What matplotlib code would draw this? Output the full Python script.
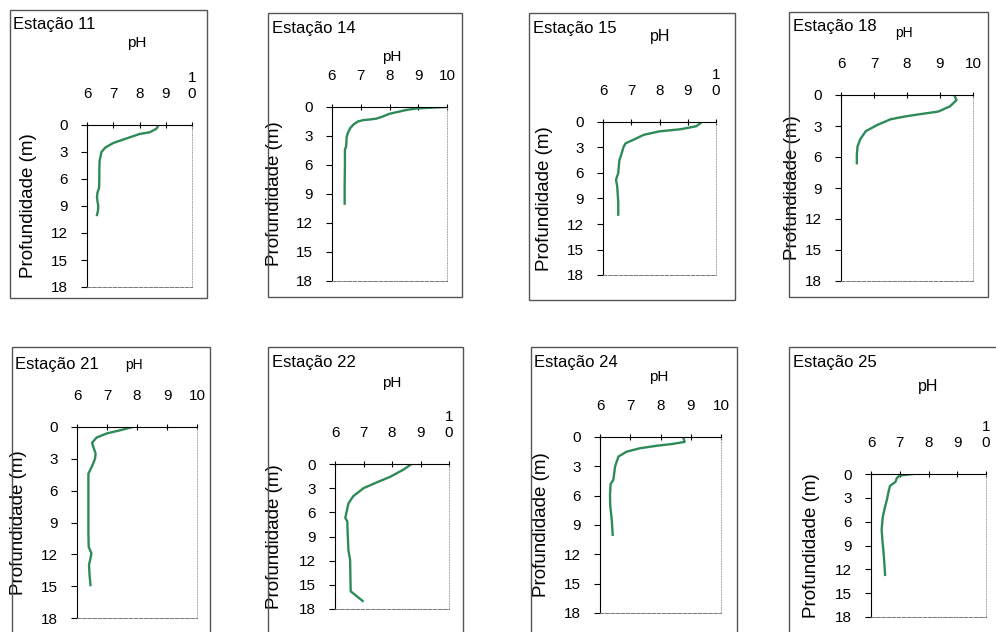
import matplotlib.pyplot as plt
from matplotlib.patches import Rectangle

plt.rcParams['font.family'] = ['Liberation Sans', 'DejaVu Sans']

# estações e perfis de pH
stations = ['Estação 11', 'Estação 14', 'Estação 15', 'Estação 18',
            'Estação 21', 'Estação 22', 'Estação 24', 'Estação 25']

depth_11 = [0.1, 0.4, 0.8, 1.0, 1.5, 2.0, 2.5, 3.0, 4.0, 5.0, 6.0, 7.0, 7.5, 8.0, 8.5, 9.0, 9.5, 10.0]
ph_11 = [8.7, 8.65, 8.4, 8.0, 7.5, 7.0, 6.7, 6.55, 6.48, 6.47, 6.47, 6.46, 6.4, 6.38, 6.4, 6.43, 6.42, 6.38]

depth_14 = [0.0, 0.15, 0.3, 0.5, 0.7, 1.0, 1.2, 1.3, 1.35, 1.5, 1.8, 2.2, 2.7, 3.1, 3.6, 4.1, 4.4, 6.0, 8.0, 10.0]
ph_14 = [9.95, 8.95, 8.6, 8.3, 8.0, 7.75, 7.55, 7.3, 7.1, 6.9, 6.75, 6.63, 6.55, 6.51, 6.5, 6.49, 6.45, 6.45, 6.44, 6.44]

depth_15 = [0.15, 0.5, 0.85, 1.1, 1.5, 2.1, 2.5, 3.0, 3.7, 4.5, 5.2, 6.0, 6.8, 7.5, 8.4, 9.5, 10.9]
ph_15 = [9.45, 9.3, 8.75, 8.0, 7.45, 7.07, 6.8, 6.72, 6.66, 6.58, 6.56, 6.54, 6.46, 6.5, 6.52, 6.54, 6.54]

depth_18 = [0.15, 0.5, 1.1, 1.6, 1.9, 2.1, 2.35, 2.9, 3.5, 4.3, 5.0, 5.8, 6.6]
ph_18 = [9.45, 9.5, 9.3, 8.95, 8.3, 7.9, 7.5, 7.1, 6.75, 6.58, 6.5, 6.48, 6.48]

depth_21 = [0.0, 0.3, 0.6, 1.0, 1.5, 2.0, 2.5, 3.0, 3.7, 4.4, 6.0, 8.0, 10.0, 11.3, 11.9, 12.5, 13.0, 14.0, 14.9]
ph_21 = [7.85, 7.45, 7.0, 6.65, 6.5, 6.56, 6.62, 6.6, 6.5, 6.38, 6.38, 6.38, 6.38, 6.39, 6.48, 6.44, 6.4, 6.42, 6.45]

depth_22 = [0.1, 0.7, 1.6, 2.2, 3.0, 4.0, 4.9, 5.9, 6.7, 7.1, 9.0, 10.7, 11.9, 14.0, 15.8, 16.4, 17.0]
ph_22 = [8.65, 8.4, 7.93, 7.52, 7.0, 6.64, 6.47, 6.41, 6.36, 6.43, 6.45, 6.47, 6.53, 6.54, 6.55, 6.76, 6.97]

depth_24 = [0.05, 0.5, 0.7, 0.9, 1.15, 1.5, 2.0, 3.0, 4.4, 4.8, 6.0, 7.1, 8.5, 10.0]
ph_24 = [8.75, 8.8, 8.42, 7.87, 7.32, 6.88, 6.61, 6.5, 6.44, 6.35, 6.33, 6.34, 6.39, 6.42]

depth_25 = [0.0, 0.2, 0.5, 1.0, 1.5, 2.4, 3.3, 4.1, 5.4, 7.0, 8.5, 9.6, 11.0, 12.7]
ph_25 = [7.45, 7.0, 6.9, 6.85, 6.66, 6.6, 6.55, 6.49, 6.41, 6.37, 6.4, 6.43, 6.46, 6.49]

depths = [depth_11, depth_14, depth_15, depth_18, depth_21, depth_22, depth_24, depth_25]
phs = [ph_11, ph_14, ph_15, ph_18, ph_21, ph_22, ph_24, ph_25]

ph_ticks = [6, 7, 8, 9, 10]
depth_ticks = [0, 3, 6, 9, 12, 15, 18]

# layout em pixels: moldura, eixos, posição do "pH", título, "10" quebrado
borders = [(10, 10, 207, 298), (268, 13, 462, 297), (529, 13, 735, 300), (789, 12, 988, 297),
           (12, 347, 210, 645), (268, 347, 463, 645), (531, 347, 737, 645), (789, 347, 1005, 645)]
axes_px = [(87, 125, 192, 287), (332, 107, 447, 281), (603, 122, 716, 275), (841, 95, 973, 281),
           (77, 427, 197, 618), (335, 464, 449, 609), (600, 437, 721, 613), (871, 474, 986, 617)]
ph_pos = [(137, 43), (392, 57), (660, 37), (904, 33), (134, 365), (392, 383), (659, 377), (928, 386)]
ph_size = [11, 11, 11.5, 10, 10, 11, 11, 11.5]
title_pos = [(13, 25), (272, 29), (533, 29), (793, 27), (15, 365), (272, 362), (534, 363), (793, 363)]
wrap10 = [True, False, True, False, False, True, False, True]
ylab_off = [50, 49, 50, 40, 50, 52, 50, 51]

W, H = 996, 632
fig = plt.figure(figsize=(9.96, 6.32), dpi=100)

for i in range(8):
    bx0, by0, bx1, by1 = borders[i]
    fig.patches.append(Rectangle((bx0 / W, 1 - by1 / H), (bx1 - bx0) / W, (by1 - by0) / H,
                                 transform=fig.transFigure, fill=False, ec='#555555', lw=1.0))
    x0, y0, x1, y1 = axes_px[i]
    ax = fig.add_axes([x0 / W, 1 - y1 / H, (x1 - x0) / W, (y1 - y0) / H])
    ax.plot(phs[i], depths[i], color='#2e8b57', lw=1.7)
    ax.set_xlim(6, 10)
    ax.set_ylim(18, 0)
    ax.xaxis.tick_top()
    ax.set_xticks(ph_ticks)
    if wrap10[i]:
        ax.set_xticklabels(['6', '7', '8', '9', '1\n0'])
    else:
        ax.set_xticklabels(['6', '7', '8', '9', '10'])
    ax.set_yticks(depth_ticks)
    ax.tick_params(axis='x', direction='inout', length=4, pad=15, labelsize=11)
    ax.tick_params(axis='y', direction='out', length=4, pad=10, labelsize=11)
    ax.spines['top'].set_color('black')
    ax.spines['left'].set_color('black')
    ax.spines['right'].set_color('#aaaaaa')
    ax.spines['right'].set_linestyle(':')
    ax.spines['right'].set_linewidth(0.7)
    ax.spines['bottom'].set_color('#777777')
    ax.spines['bottom'].set_linestyle('--')
    ax.spines['bottom'].set_linewidth(0.7)
    ax.set_ylabel('Profundidade (m)', fontsize=13.5)
    ax.yaxis.set_label_coords(-ylab_off[i] / (x1 - x0), 0.5)
    fig.text(ph_pos[i][0] / W, 1 - ph_pos[i][1] / H, 'pH', fontsize=ph_size[i], ha='center', va='center')
    fig.text(title_pos[i][0] / W, 1 - title_pos[i][1] / H, stations[i], fontsize=12, ha='left', va='center')

fig.savefig('out.png', dpi=100)
